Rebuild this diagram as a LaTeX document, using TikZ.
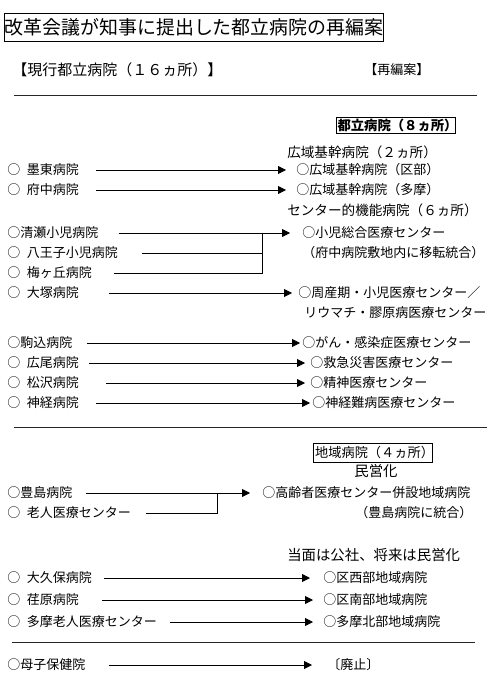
\documentclass[tikz,border=0pt]{standalone}
\usepackage{fontspec}
\setmainfont{Noto Sans CJK JP}
\usetikzlibrary{arrows.meta,calc}

\begin{document}
\begin{tikzpicture}[
  x=0.75pt, y=-0.75pt,
  itemtext/.style={anchor=west, inner sep=0pt, font=\fontsize{9.75}{11}\selectfont},
  headtext/.style={anchor=west, inner sep=0pt, font=\fontsize{10.2}{12}\selectfont},
  boxtext/.style={draw, line width=0.6pt, inner sep=0pt},
  flow/.style={-{Triangle[length=6pt,width=6pt]}, line width=0.6pt},
  link/.style={line width=0.6pt},
  sepline/.style={line width=0.75pt, black!85}
]
\useasboundingbox (0,0) rectangle (500,684);

% heading
\node[boxtext, minimum width=283.5pt, minimum height=21pt, font=\fontsize{14.2}{16}\selectfont] (title) at (194,27) {改革会議が知事に提出した都立病院の再編案};
\node[itemtext, font=\fontsize{11.25}{13}\selectfont] (current) at (12,70) {【現行都立病院（１６ヵ所）】};
\node[itemtext] (plan) at (364,70) {【再編案】};
\draw[sepline] (14,96) -- (477,96);

% metropolitan hospitals
\node[boxtext, minimum width=89.25pt, minimum height=12pt, inner xsep=1pt, text width=87pt, align=left, font=\fontsize{10}{11}\selectfont\bfseries] (toritsu) at (395.5,125) {都立病院（８ヵ所）};
\node[headtext] (koiki) at (287,152) {広域基幹病院（２ヵ所）};
\node[itemtext] (bokuto) at (7,170) {○\enspace 墨東病院};
\node[itemtext] (fuchu) at (7,190) {○\enspace 府中病院};
\node[itemtext] (kubu) at (296,170) {○広域基幹病院（区部）};
\node[itemtext] (tamabu) at (296,190) {○広域基幹病院（多摩）};
\node[headtext] (center) at (287,210) {センター的機能病院（６ヵ所）};
\node[itemtext] (kiyose) at (7,233) {○清瀬小児病院};
\node[itemtext] (hachioji) at (7,253) {○\enspace 八王子小児病院};
\node[itemtext] (umegaoka) at (7,273) {○\enspace 梅ヶ丘病院};
\node[itemtext] (otsuka) at (7,293) {○\enspace 大塚病院};
\node[itemtext] (shoni) at (302,233) {○小児総合医療センター};
\node[itemtext] (iten) at (302,253) {（府中病院敷地内に移転統合）};
\node[itemtext] (shusanki) at (298,293) {○周産期・小児医療センター／};
\node[itemtext] (riumachi) at (304,313) {リウマチ・膠原病医療センター};
\node[itemtext] (komagome) at (7,343) {○駒込病院};
\node[itemtext] (hiroo) at (7,363) {○\enspace 広尾病院};
\node[itemtext] (matsuzawa) at (7,383) {○\enspace 松沢病院};
\node[itemtext] (shinkei) at (7,403) {○\enspace 神経病院};
\node[itemtext] (gan) at (302,343) {○がん・感染症医療センター};
\node[itemtext] (kyukyu) at (310,363) {○救急災害医療センター};
\node[itemtext] (seishin) at (310,383) {○精神医療センター};
\node[itemtext] (nanbyo) at (312,403) {○神経難病医療センター};
\coordinate (kmerge) at (262,233);

\draw[flow] ($(bokuto.east)+(17,0)$) -- ($(kubu.west)+(-10,0)$);
\draw[flow] ($(fuchu.east)+(17,0)$) -- ($(tamabu.west)+(-10,0)$);
\draw[flow] ($(kiyose.east)+(20,0)$) -- ($(shoni.west)+(-12,0)$);
\draw[link] ($(hachioji.east)+(24,0)$) -| (kmerge);
\draw[link] ($(umegaoka.east)+(22,0)$) -| (kmerge);
\draw[flow] ($(otsuka.east)+(30,0)$) -- ($(shusanki.west)+(-6,0)$);
\draw[flow] ($(komagome.east)+(14,0)$) -- ($(gan.west)+(-2,0)$);
\draw[flow] ($(hiroo.east)+(10,0)$) -- ($(kyukyu.west)+(-5,0)$);
\draw[flow] ($(matsuzawa.east)+(27,0)$) -- ($(seishin.west)+(-5,0)$);
\draw[flow] ($(shinkei.east)+(17,0)$) -- ($(nanbyo.west)+(-2,0)$);
\draw[sepline] (14,427) -- (487,427);

% regional hospitals
\node[boxtext, minimum width=89.25pt, minimum height=14.25pt, inner xsep=1.5pt, text width=86pt, align=left, font=\fontsize{9.9}{11}\selectfont] (chiiki) at (372.5,452.5) {地域病院（４ヵ所）};
\node[headtext, anchor=center, font=\fontsize{10.8}{12}\selectfont] (minei) at (376,471) {民営化};
\node[itemtext] (toshima) at (7,493) {○豊島病院};
\node[itemtext] (rojin) at (7,513) {○\enspace 老人医療センター};
\node[itemtext] (koreisha) at (262,493) {○高齢者医療センター併設地域病院};
\node[itemtext] (togo) at (355,513) {（豊島病院に統合）};
\coordinate (tmerge) at (217,493);
\draw[flow] ($(toshima.east)+(13,0)$) -- ($(koreisha.west)+(-12,0)$);
\draw[link] ($(rojin.east)+(15,0)$) -| (tmerge);

\node[headtext, font=\fontsize{10.8}{12}\selectfont] (tomen) at (287,555) {当面は公社、将来は民営化};
\node[itemtext] (okubo) at (7,578) {○\enspace 大久保病院};
\node[itemtext] (ebara) at (7,600) {○\enspace 荏原病院};
\node[itemtext] (tamarojin) at (7,622) {○\enspace 多摩老人医療センター};
\node[itemtext] (kusei) at (323,578) {○区西部地域病院};
\node[itemtext] (kunan) at (323,600) {○区南部地域病院};
\node[itemtext] (tamahoku) at (323,622) {○多摩北部地域病院};
\draw[flow] ($(okubo.east)+(12,0)$) -- ($(kusei.west)+(-13,0)$);
\draw[flow] ($(ebara.east)+(23,0)$) -- ($(kunan.west)+(-10,0)$);
\draw[flow] ($(tamarojin.east)+(13,0)$) -- ($(tamahoku.west)+(-10,0)$);
\draw[sepline] (12,642) -- (475,642);

\node[itemtext] (boshi) at (7,665) {○母子保健院};
\node[itemtext] (haishi) at (327,665) {〔廃止〕};
\draw[flow] ($(boshi.east)+(23,0)$) -- ($(haishi.west)+(-15,0)$);
\end{tikzpicture}
\end{document}
